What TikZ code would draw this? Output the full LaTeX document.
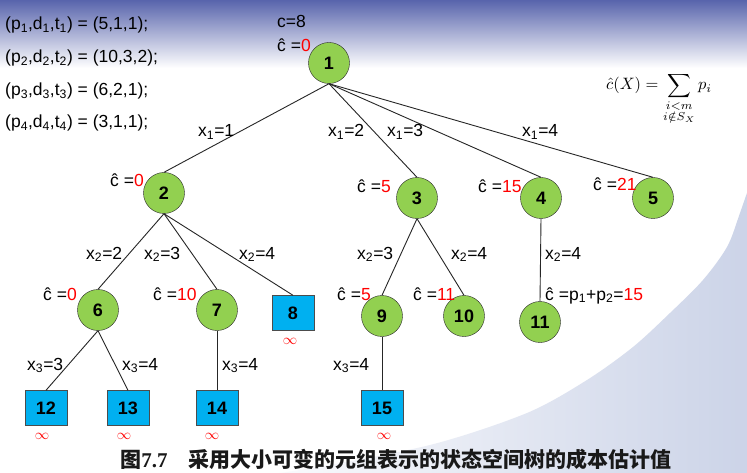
\documentclass[tikz,border=0pt]{standalone}
\usepackage{amsmath,amssymb}
\usepackage{graphicx}
\usepackage[no-math]{fontspec}
\setmainfont{Liberation Sans}
\newfontfamily\cjk{Noto Sans CJK SC}
\newfontfamily\serif{Liberation Serif}
\usepackage{tikz}

\definecolor{nodegreen}{RGB}{146,208,80}
\definecolor{leafblue}{RGB}{0,176,240}
\definecolor{slidetop}{RGB}{88,100,172}
\definecolor{swoosh}{RGB}{202,210,231}

\begin{document}
\begin{tikzpicture}[x=1pt,y=-1pt,
  stnode/.style={circle,draw=black!85,fill=nodegreen,minimum size=41pt,inner sep=0pt,
    font=\fontsize{18}{20}\selectfont\bfseries},
  leafbox/.style={rectangle,draw=black!70,fill=leafblue,minimum width=42pt,minimum height=35pt,
    inner sep=0pt,font=\fontsize{18}{20}\selectfont\bfseries},
  lbl/.style={anchor=base west,inner sep=0pt,font=\fontsize{17.5}{20}\selectfont},
  inf/.style={red,inner sep=0pt,font=\fontsize{15}{18}\selectfont},
  edge/.style={black!85,line width=0.9pt}]

% background of the slide
\useasboundingbox (0,0) rectangle (747,473);
\fill[white] (0,0) rectangle (747,473);
\shade[top color=slidetop,bottom color=white] (0,0) rectangle (747,68);
\shade[left color=white,right color=swoosh] plot[smooth] coordinates {(765,140) (740,213)
  (727,247) (703,280) (670,313) (633,347) (587,380) (527,413) (430,445) (300,470) (220,480)}
  -- (765,480) -- cycle;

% data of the jobs
\node[lbl] (job1) at (5,30) {(p\textsubscript{1},d\textsubscript{1},t\textsubscript{1}) = (5,1,1);};
\node[lbl] (job2) at (5,63) {(p\textsubscript{2},d\textsubscript{2},t\textsubscript{2}) = (10,3,2);};
\node[lbl] (job3) at (5,96) {(p\textsubscript{3},d\textsubscript{3},t\textsubscript{3}) = (6,2,1);};
\node[lbl] (job4) at (5,128) {(p\textsubscript{4},d\textsubscript{4},t\textsubscript{4}) = (3,1,1);};
\node[anchor=base west,inner sep=0pt] (fx) at (606,90)
  {\scalebox{1.65}{$\displaystyle \hat{c}(X)=\sum_{\substack{i<m\\ i\notin S_X}} p_i$}};

% the tree
\node[stnode] (n1) at (329,63) {1};
\node[stnode] (n2) at (164,193) {2};
\node[stnode] (n3) at (417,198) {3};
\node[stnode] (n4) at (541,198) {4};
\node[stnode] (n5) at (653,198) {5};
\node[stnode] (n6) at (98,310) {6};
\node[stnode] (n7) at (217,310) {7};
\node[leafbox] (n8) at (293,313) {8};
\node[stnode] (n9) at (382,316) {9};
\node[stnode] (n10) at (464,316) {10};
\node[stnode] (n11) at (540,322) {11};
\node[leafbox] (n12) at (46,408) {12};
\node[leafbox] (n13) at (128,408) {13};
\node[leafbox] (n14) at (217,408) {14};
\node[leafbox] (n15) at (382,408) {15};

\foreach \a/\b in {n1/n2,n1/n3,n1/n4,n1/n5,n2/n6,n2/n7,n2/n8,n3/n9,n3/n10,n4/n11,
  n6/n12,n6/n13,n7/n14,n9/n15}
  \draw[edge] (\a.south) -- (\b.north);

% edge labels
\node[lbl] (x11) at (198,137) {x\textsubscript{1}=1};
\node[lbl] (x12) at (328,137) {x\textsubscript{1}=2};
\node[lbl] (x13) at (387,137) {x\textsubscript{1}=3};
\node[lbl] (x14) at (522,137) {x\textsubscript{1}=4};
\node[lbl] (x22) at (86,259) {x\textsubscript{2}=2};
\node[lbl] (x23) at (144,259) {x\textsubscript{2}=3};
\node[lbl] (x24) at (239,259) {x\textsubscript{2}=4};
\node[lbl] (x23b) at (357,259) {x\textsubscript{2}=3};
\node[lbl] (x24b) at (451,259) {x\textsubscript{2}=4};
\node[lbl] (x24c) at (545,259) {x\textsubscript{2}=4};
\node[lbl] (x33) at (27,370) {x\textsubscript{3}=3};
\node[lbl] (x34) at (122,370) {x\textsubscript{3}=4};
\node[lbl] (x34b) at (222,370) {x\textsubscript{3}=4};
\node[lbl] (x34c) at (333,370) {x\textsubscript{3}=4};

% cost estimates
\node[lbl] (c8) at (277,28) {c=8};
\node[lbl] (e1) at (277,52) {ĉ =\textcolor{red}{0}};
\node[lbl] (e2) at (110,187) {ĉ =\textcolor{red}{0}};
\node[lbl] (e3) at (357,193) {ĉ =\textcolor{red}{5}};
\node[lbl] (e4) at (478,193) {ĉ =\textcolor{red}{15}};
\node[lbl] (e5) at (593,191) {ĉ =\textcolor{red}{21}};
\node[lbl] (e6) at (43,300) {ĉ =\textcolor{red}{0}};
\node[lbl] (e7) at (153,300) {ĉ =\textcolor{red}{10}};
\node[lbl] (e9) at (337,300) {ĉ =\textcolor{red}{5}};
\node[lbl] (e10) at (413,300) {ĉ =\textcolor{red}{11}};
\node[lbl] (e11) at (545,300) {ĉ =p\textsubscript{1}+p\textsubscript{2}=\textcolor{red}{15}};
\node[inf] (i8) at (290,341) {$\infty$};
\node[inf] (i12) at (42,436) {$\infty$};
\node[inf] (i13) at (124,436) {$\infty$};
\node[inf] (i14) at (212,436) {$\infty$};
\node[inf] (i15) at (384,436) {$\infty$};

\node[anchor=base,inner sep=0pt,font=\fontsize{21}{24}\selectfont\bfseries,text=black!90] (cap)
  at (396,467) {{\cjk 图}{\serif 7.7}\quad{\cjk 采用大小可变的元组表示的状态空间树的成本估计值}};
\end{tikzpicture}
\end{document}
